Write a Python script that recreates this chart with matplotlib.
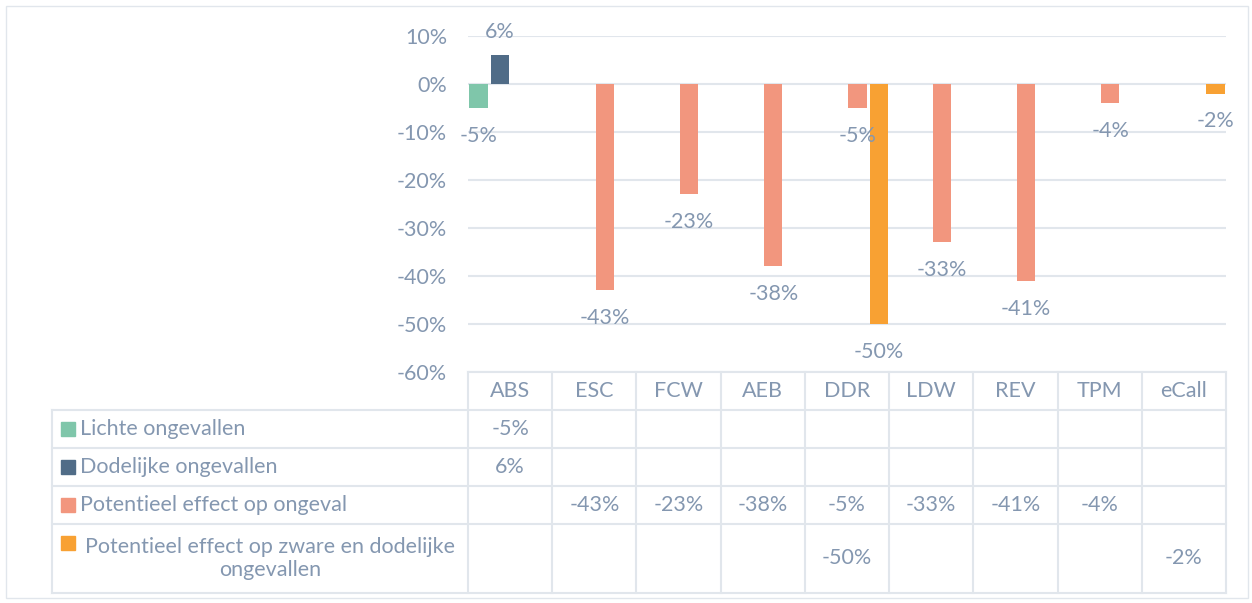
import numpy as np
import matplotlib.pyplot as plt
from matplotlib.patches import Rectangle

nan = np.nan
categories = ['ABS', 'ESC', 'FCW', 'AEB', 'DDR', 'LDW', 'REV', 'TPM', 'eCall']
series = ['Lichte ongevallen', 'Dodelijke ongevallen', 'Potentieel effect op ongeval',
          'Potentieel effect op zware en dodelijke\nongevallen']
lichte = [-5, nan, nan, nan, nan, nan, nan, nan, nan]
dodelijk = [6, nan, nan, nan, nan, nan, nan, nan, nan]
potentieel = [nan, -43, -23, -38, -5, -33, -41, -4, nan]
zwaar = [nan, nan, nan, nan, -50, nan, nan, nan, -2]
colors = ['#7FC6AA', '#506C87', '#F2967E', '#F8A133']
data = [lichte, dodelijk, potentieel, zwaar]

W, H = 1252, 603
TXT = '#8497B0'
GRID = '#E1E6EC'
FS = 15.5
plt.rcParams['font.family'] = ['Lato', 'DejaVu Sans']

fig = plt.figure(figsize=(W / 100, H / 100), dpi=100)


def px(x0, y0, x1, y1):
    return [x0 / W, 1 - y1 / H, (x1 - x0) / W, (y1 - y0) / H]


# bar chart
ax = fig.add_axes(px(468, 36, 1226, 372))
n = len(categories)
x = np.arange(n)
slot = 0.25
for k, (vals, c) in enumerate(zip(data, colors)):
    v = np.array(vals, float)
    pos = x + (k - 1.5) * slot
    ax.bar(pos, v, width=0.215, color=c, zorder=3)
    for p, val in zip(pos, v):
        if np.isnan(val):
            continue
        off = 17 if val > 0 else -20
        ax.annotate(f'{val:.0f}%', (p, val), xytext=(0, off), textcoords='offset points',
                    ha='center', va='center', color=TXT, fontsize=FS, zorder=5)
ax.set_xlim(-0.5, n - 0.5)
ax.set_ylim(-60, 10)
ax.set_yticks(range(-60, 11, 10))
ax.yaxis.set_major_formatter(lambda v, p: f'{v:.0f}%')
ax.set_axisbelow(True)
ax.grid(axis='y', color=GRID, lw=1.5)
ax.set_xticks([])
for s in ax.spines.values():
    s.set_visible(False)
ax.tick_params(axis='y', length=0, pad=15, labelcolor=TXT, labelsize=FS)

# data table underneath
cw = (1226 - 468) / n
tab = fig.add_axes(px(52, 372, 1226, 593))
xl = -0.5 - (468 - 52) / cw
tab.set_xlim(xl, n - 0.5)
tab.set_ylim(593, 372)
tab.axis('off')


def dx(p):
    return xl + (p - 52) / cw


rows = [372, 410, 448, 486, 524, 593]
for y in rows[1:]:
    tab.plot([xl, n - 0.5], [y, y], color=GRID, lw=1.5, clip_on=False)
tab.plot([-0.5, n - 0.5], [372, 372], color=GRID, lw=1.5, clip_on=False)
for i in range(n + 1):
    tab.plot([i - 0.5, i - 0.5], [372, 593], color=GRID, lw=1.5, clip_on=False)
tab.plot([xl, xl], [410, 593], color=GRID, lw=1.5, clip_on=False)

for i, cat in enumerate(categories):
    tab.text(i, 391, cat, ha='center', va='center', color=TXT, fontsize=FS)

for r, (name, vals, c) in enumerate(zip(series, data, colors)):
    top, bot = rows[r + 1], rows[r + 2]
    yc = (top + bot) / 2
    if '\n' in name:
        ysw = top + 19
        tab.text(dx(270), yc, name, ha='center', va='center', multialignment='center',
                 color=TXT, fontsize=FS, linespacing=1.15)
    else:
        ysw = yc
        tab.text(dx(80), yc, name, ha='left', va='center', color=TXT, fontsize=FS)
    tab.add_patch(Rectangle((dx(61), ysw - 7), 14 / cw, 14, color=c, clip_on=False))
    for i, val in enumerate(vals):
        if not np.isnan(val):
            tab.text(i, yc, f'{val:.0f}%', ha='center', va='center', color=TXT, fontsize=FS)

fig.add_artist(Rectangle((6 / W, 1 - 598 / H), (1248 - 6) / W, (598 - 6) / H,
                         transform=fig.transFigure, fill=False, ec=GRID, lw=1))

fig.savefig('out.png', dpi=100)
